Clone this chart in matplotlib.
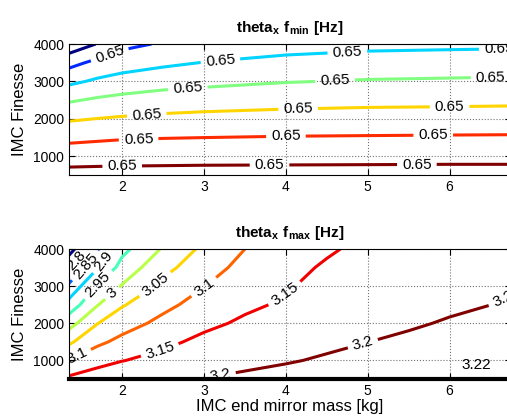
import numpy as np
import matplotlib
matplotlib.use('Agg')
import matplotlib.pyplot as plt

plt.rcParams['font.family'] = ['Liberation Sans', 'DejaVu Sans']
plt.rcParams['mathtext.fontset'] = 'custom'
plt.rcParams['mathtext.rm'] = 'Liberation Sans'
plt.rcParams['mathtext.bf'] = 'Liberation Sans:bold'

finesse = [500, 1000, 1500, 2000, 2500, 3000, 3500, 4000]

# theta_x f_min [Hz]: строки - finesse, столбцы - масса зеркала [kg] (оценка по картинке)
mass_min = [1.35, 1.7, 2, 2.5, 3, 4, 5, 6, 6.75]
f_min = [
    [0.65233, 0.65234, 0.65234, 0.65234, 0.65235, 0.65235, 0.65236, 0.65236, 0.65236],
    [0.65155, 0.65160, 0.65163, 0.65166, 0.65168, 0.65170, 0.65171, 0.65173, 0.65173],
    [0.65076, 0.65085, 0.65092, 0.65097, 0.65100, 0.65105, 0.65107, 0.65109, 0.65110],
    [0.64989, 0.65002, 0.65011, 0.65022, 0.65029, 0.65036, 0.65041, 0.65043, 0.65045],
    [0.64889, 0.64914, 0.64929, 0.64944, 0.64953, 0.64967, 0.64974, 0.64977, 0.64980],
    [0.64779, 0.64816, 0.64838, 0.64863, 0.64876, 0.64896, 0.64907, 0.64912, 0.64916],
    [0.64668, 0.64726, 0.64754, 0.64781, 0.64803, 0.64828, 0.64841, 0.64846, 0.64850],
    [0.64532, 0.64605, 0.64675, 0.64710, 0.64730, 0.64760, 0.64775, 0.64780, 0.64783],
]
levels_min = [0.646, 0.647, 0.648, 0.649, 0.650, 0.651, 0.652]
labels_min = [(1.85, 3700),
              (3.2, 3550), (4.75, 3800), (6.6, 3870),
              (2.8, 2850), (4.6, 3020), (6.5, 3110),
              (2.3, 2120), (4.15, 2290), (6.0, 2320),
              (2.2, 1460), (4.0, 1530), (5.8, 1570),
              (2.0, 740), (3.8, 765), (5.6, 780)]

# theta_x f_max [Hz]
mass_max = [1.35, 1.7, 2, 2.5, 3, 3.5, 4, 4.5, 5, 5.5, 6, 6.75]
f_max = [
    [3.1600, 3.1760, 3.1840, 3.1880, 3.2008, 3.2070, 3.2110, 3.2130, 3.2170, 3.2195, 3.2220, 3.2200],
    [3.1010, 3.1330, 3.1486, 3.1640, 3.1806, 3.1907, 3.1975, 3.2035, 3.2084, 3.2120, 3.2153, 3.2140],
    [3.0415, 3.0900, 3.1130, 3.1400, 3.1605, 3.1740, 3.1836, 3.1938, 3.1998, 3.2045, 3.2088, 3.2100],
    [2.9805, 3.0490, 3.0796, 3.1130, 3.1400, 3.1570, 3.1697, 3.1840, 3.1913, 3.1970, 3.2022, 3.2060],
    [2.9195, 2.9980, 3.0458, 3.0875, 3.1194, 3.1420, 3.1558, 3.1743, 3.1827, 3.1895, 3.1957, 3.2020],
    [2.8595, 2.9570, 3.0034, 3.0625, 3.0988, 3.1280, 3.1455, 3.1646, 3.1760, 3.1820, 3.1891, 3.1980],
    [2.7970, 2.8970, 2.9690, 3.0350, 3.0800, 3.1140, 3.1380, 3.1549, 3.1680, 3.1745, 3.1826, 3.1940],
    [2.7260, 2.8460, 2.9360, 3.0050, 3.0613, 3.1000, 3.1300, 3.1450, 3.1600, 3.1670, 3.1760, 3.1900],
]
levels_max = [2.75, 2.8, 2.85, 2.9, 2.95, 3.0, 3.05, 3.1, 3.15, 3.2]
labels_max = [(1.42, 3750), (1.55, 3550), (1.75, 3700), (1.69, 3070),
              (1.88, 2800), (2.4, 3050),
              (1.45, 1100), (3.0, 2970),
              (2.46, 1273), (4.0, 2750),
              (3.2, 600), (4.94, 1450), (6.65, 2650)]
max_label = '3.22'


def matlab_jet(n):
    """Цвета jet как в MATLAB"""
    x = np.linspace(0, 1, n)
    r = np.clip(1.5 - np.abs(4 * x - 3), 0, 1)
    g = np.clip(1.5 - np.abs(4 * x - 2), 0, 1)
    b = np.clip(1.5 - np.abs(4 * x - 1), 0, 1)
    return np.column_stack([r, g, b])


def setup(ax):
    ax.set_xlim(1.35, 6.75)
    ax.set_ylim(500, 4000)
    ax.set_xticks([2, 3, 4, 5, 6])
    ax.set_yticks([1000, 2000, 3000, 4000])
    ax.grid(True, linestyle=':', color='0.45', linewidth=0.8)
    ax.tick_params(direction='in', top=True, right=True, labelsize=10, length=4)
    ax.set_ylabel('IMC Finesse', fontsize=12)


fig = plt.figure(figsize=(5.07, 4.18), dpi=100)
ax1 = fig.add_axes([0.1361, 0.5813, 0.8718, 0.3134])
ax2 = fig.add_axes([0.1361, 0.0933, 0.8718, 0.3110])

X1, Y1 = np.meshgrid(mass_min, finesse)
cs1 = ax1.contour(X1, Y1, np.array(f_min), levels=levels_min,
                  colors=matlab_jet(len(levels_min)), linewidths=2.2)
ax1.clabel(cs1, fmt='%.2f', fontsize=11, colors='k', inline=True,
           manual=labels_min)
setup(ax1)
ax1.set_title(r'$\mathbf{theta_x\ f_{min}\ [Hz]}$', fontsize=11, pad=9)

X2, Y2 = np.meshgrid(mass_max, finesse)
cs2 = ax2.contour(X2, Y2, np.array(f_max), levels=levels_max,
                  colors=matlab_jet(len(levels_max)), linewidths=2.2)
ax2.clabel(cs2, fmt=lambda v: f'{v:g}', fontsize=11, colors='k', inline=True,
           manual=labels_max)
setup(ax2)
ax2.text(6.33, 870, max_label, ha='center', va='center', fontsize=11)
ax2.spines['bottom'].set_linewidth(3)
ax2.set_title(r'$\mathbf{theta_x\ f_{max}\ [Hz]}$', fontsize=11, pad=9)
ax2.set_xlabel('IMC end mirror mass [kg]', fontsize=12, labelpad=1)

fig.savefig('out.png', dpi=100)
